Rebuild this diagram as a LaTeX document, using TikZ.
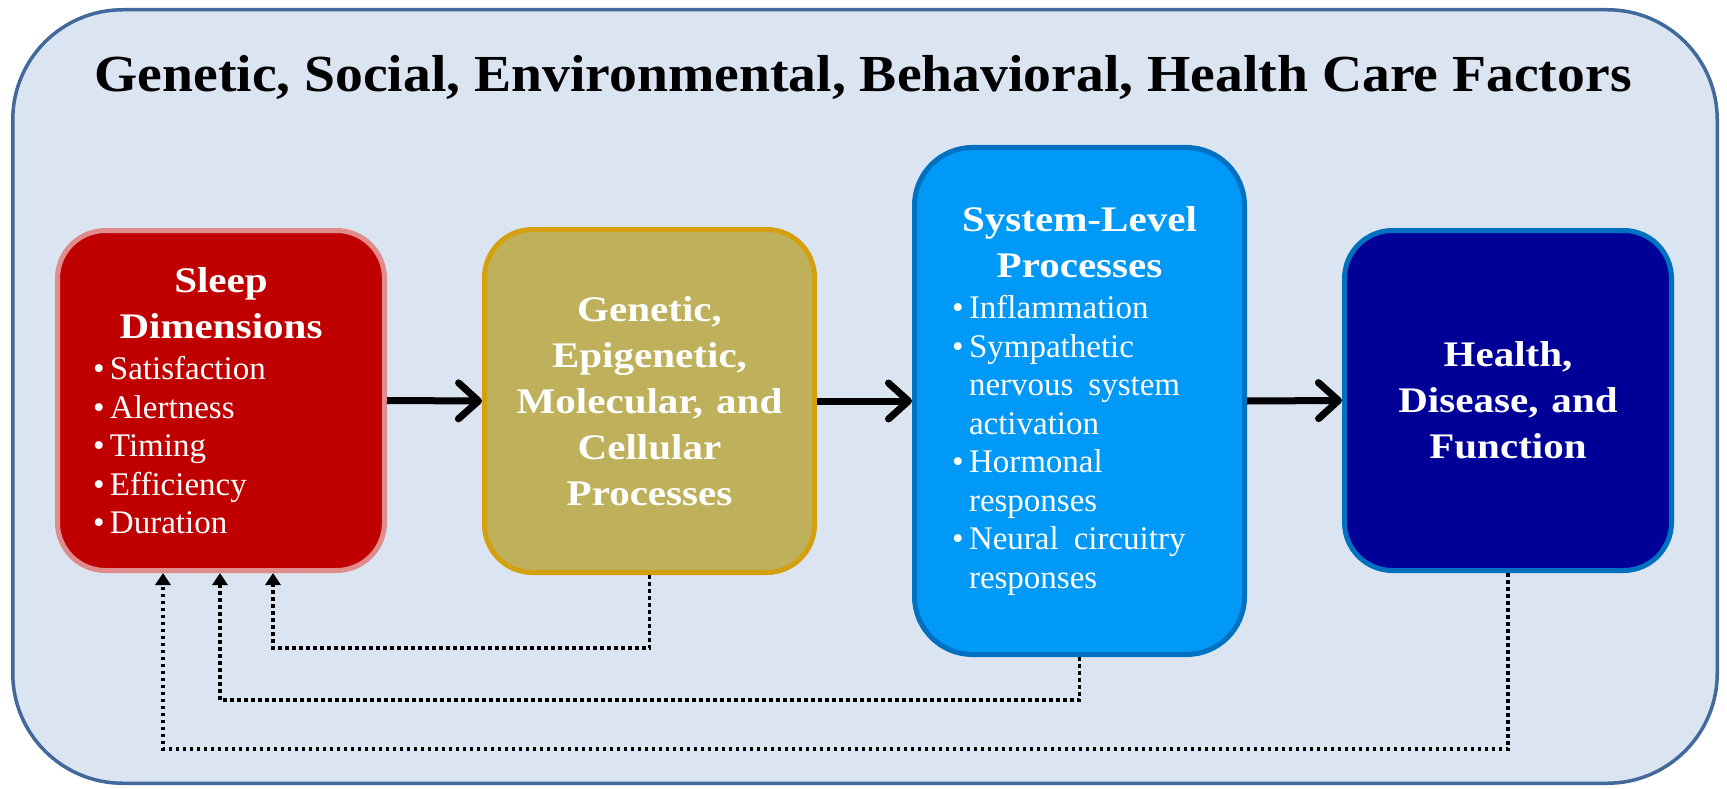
\documentclass[tikz,border=0pt]{standalone}
\usepackage{fontspec}
\setmainfont{Liberation Serif}
\newfontfamily\hfont[FakeStretch=1.14]{Liberation Serif}
\newfontfamily\tfont[FakeStretch=1.07]{Liberation Serif}
\usetikzlibrary{arrows.meta,calc}
\definecolor{bgc}{HTML}{DBE4F1}
\definecolor{bgborder}{HTML}{41699B}
\definecolor{sleepfill}{HTML}{C00000}
\definecolor{sleepdraw}{HTML}{E08C8C}
\definecolor{genefill}{HTML}{BFB05C}
\definecolor{genedraw}{HTML}{D4A010}
\definecolor{sysfill}{HTML}{0099F7}
\definecolor{sysdraw}{HTML}{0070C0}
\definecolor{healthfill}{HTML}{000099}
\definecolor{healthdraw}{HTML}{0070C0}
\newcommand\bul{\makebox[17pt][l]{•}}
\newcommand\ind{\hspace*{17pt}}
\newcommand\gap{\hspace{13pt}}
\newcommand\headfont{\hfont\bfseries\fontsize{36}{46}\selectfont}
\newcommand\itemfont{\fontsize{33}{38.5}\selectfont}
\tikzset{
  box/.style={rounded corners=48pt, line width=5pt, text=white, inner sep=0pt},
  flow/.style={line width=7pt, -{Straight Barb[length=20pt,width=36pt,round]}},
  fb/.style={line width=3.5pt, dash pattern=on 3.5pt off 3.5pt, -{Triangle[length=12pt,width=15pt]}},
}
\begin{document}
\begin{tikzpicture}[x=1pt,y=-1pt]
\useasboundingbox (0,0) rectangle (1727,789);
\node[draw=bgborder, fill=bgc, line width=3.5pt, rounded corners=110pt,
  minimum width=1704.5pt, minimum height=773.5pt] (frame) at (865,396.5) {};
\node[font=\tfont\bfseries\fontsize{52}{60}\selectfont, anchor=base] (title) at (863,92)
  {Genetic, Social, Environmental, Behavioral, Health Care Factors};

\node[box, fill=sleepfill, draw=sleepdraw, minimum width=327pt, minimum height=340pt, text width=256pt] (sleep) at (221,400.5)
{{\headfont\centering Sleep\\Dimensions\par}\vspace{3pt}
{\itemfont\raggedright \bul Satisfaction\\ \bul Alertness\\ \bul Timing\\ \bul Efficiency\\ \bul Duration\par}};

\node[box, fill=genefill, draw=genedraw, minimum width=330pt, minimum height=343pt, text width=300pt] (gene) at (649.5,401)
{{\headfont\centering Genetic,\\Epigenetic,\\Molecular,\gap and\\Cellular\\Processes\par}};

\node[box, fill=sysfill, draw=sysdraw, rounded corners=58pt, minimum width=330pt, minimum height=507pt, text width=255pt] (sys) at (1079.5,401)
{{\headfont\centering System-Level\\Processes\par}\vspace{3pt}
{\itemfont\raggedright \bul Inflammation\\ \bul Sympathetic\\ \ind nervous\hspace{15pt}system\\ \ind activation\\ \bul Hormonal\\ \ind responses\\ \bul Neural\hspace{15pt}circuitry\\ \ind responses\par}};

\node[box, fill=healthfill, draw=healthdraw, minimum width=327pt, minimum height=340pt, text width=300pt] (health) at (1508,400.5)
{{\headfont\centering Health,\\Disease,\gap and\\Function\par}};

\draw[flow] (sleep.east) -- (gene.west);
\draw[flow] (gene.east) -- (sys.west);
\draw[flow] (sys.east) -- (health.west);

\coordinate (r1) at (273,648);
\coordinate (r2) at (220,700);
\coordinate (r3) at (163,749);
\draw[fb] (gene.south) |- (r1) -- (r1 |- sleep.south);
\draw[fb] (sys.south) |- (r2) -- (r2 |- sleep.south);
\draw[fb] (health.south) |- (r3) -- (r3 |- sleep.south);
\end{tikzpicture}
\end{document}
